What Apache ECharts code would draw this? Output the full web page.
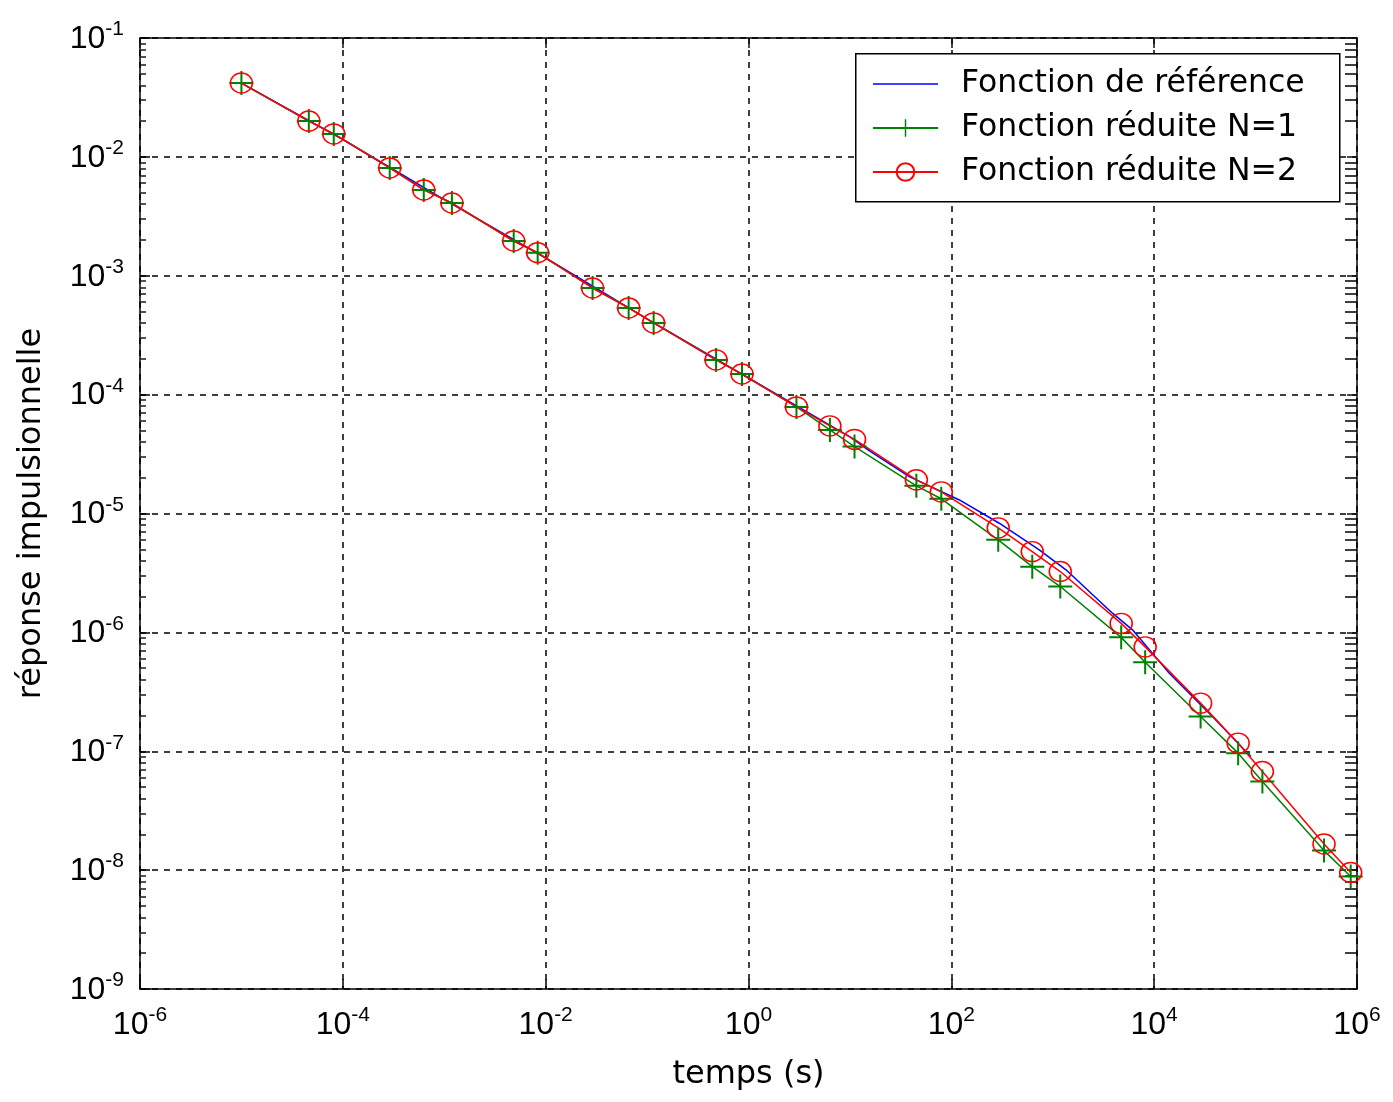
<!DOCTYPE html>
<html><head><meta charset="utf-8">
<script src="https://cdn.jsdelivr.net/npm/echarts@6/dist/echarts.min.js"></script>
<style>html,body{margin:0;padding:0;background:#fff}#c{width:1393px;height:1102px}</style>
</head><body><div id="c"></div>
<script>
// sample times (s) where the reduced functions are marked
const timeValues = [1e-5, 4.62e-5, 8.14e-5, 2.90e-4, 6.28e-4, 1.19e-3, 4.84e-3, 8.34e-3, 0.0290, 0.0658, 0.116, 0.479, 0.863, 2.97, 6.35, 11.1, 45.2, 79.6, 290, 628, 1186, 4730, 8150, 28700, 67300, 116700, 473000, 867000];
// reduced function N=1
const n1Values = [0.0418, 0.0200, 0.0156, 8.07e-3, 5.27e-3, 4.09e-3, 1.96e-3, 1.56e-3, 7.89e-4, 5.36e-4, 4.01e-4, 1.96e-4, 1.49e-4, 7.88e-5, 5.05e-5, 3.66e-5, 1.71e-5, 1.33e-5, 6.00e-6, 3.57e-6, 2.43e-6, 9.08e-7, 5.60e-7, 1.96e-7, 9.64e-8, 5.56e-8, 1.46e-8, 8.83e-9];
// reduced function N=2
const n2Values = [0.0418, 0.0200, 0.0156, 8.07e-3, 5.27e-3, 4.09e-3, 1.96e-3, 1.56e-3, 7.89e-4, 5.36e-4, 4.01e-4, 1.96e-4, 1.49e-4, 7.88e-5, 5.46e-5, 4.20e-5, 1.92e-5, 1.52e-5, 7.57e-6, 4.78e-6, 3.25e-6, 1.19e-6, 7.55e-7, 2.54e-7, 1.17e-7, 6.75e-8, 1.66e-8, 9.55e-9];
// reference function
const refTimes = [1e-5, 1e-4, 1e-3, 1e-2, 0.1, 1, 10, 15.6, 38.5, 120, 297, 736, 1350, 3880, 6110, 14100, 37500, 89800];
const refValues = [0.0418, 0.0140, 4.37e-3, 1.41e-3, 4.33e-4, 1.38e-4, 4.41e-5, 3.36e-5, 2.04e-5, 1.30e-5, 8.28e-6, 4.94e-6, 3.36e-6, 1.45e-6, 1.05e-6, 4.54e-7, 1.96e-7, 9.02e-8];

const xTickValues = [1e-6, 1e-4, 1e-2, 1, 1e2, 1e4, 1e6];
const yTickValues = [1e-9, 1e-8, 1e-7, 1e-6, 1e-5, 1e-4, 1e-3, 1e-2, 1e-1];
const minorMultipliers = [2, 3, 4, 5, 6, 7, 8, 9];
const seriesNames = ['Fonction de référence', 'Fonction réduite N=1', 'Fonction réduite N=2'];
const xTitle = 'temps (s)';
const yTitle = 'réponse impulsionnelle';

const yMinorTicks = [];
yTickValues.slice(0, -1).forEach(d => minorMultipliers.forEach(m => yMinorTicks.push(+(m * d).toPrecision(3))));

const sup = v => '{b|10}{s|' + Math.round(Math.log10(v)) + '}';
const rich = {
  b: {fontFamily: 'Liberation Sans', fontSize: 32, lineHeight: 32, padding: [8, 0, 0, 0], color: '#000'},
  s: {fontFamily: 'Liberation Sans', fontSize: 21, lineHeight: 21, verticalAlign: 'top', color: '#000'}
};
const titleFont = {fontFamily: 'DejaVu Sans', fontSize: 32, color: '#000'};
const border = {show: true, lineStyle: {color: '#000', width: 1.5}};
const grid = {show: true, color: '#000', width: 1.5, type: [6, 6]};
const plusPath = 'path://M-1,-12L1,-12L1,-1L12,-1L12,1L1,1L1,12L-1,12L-1,1L-12,1L-12,-1L-1,-1Z';
const linePath = 'path://M0,0L65,0L65,1.5L0,1.5Z';

const logY = {type: 'log', logBase: 10, min: 1e-9, max: 1e-1};
const logX = {type: 'log', logBase: 10, min: 1e-6, max: 1e6};

const chart = echarts.init(document.getElementById('c'), null, {renderer: 'canvas'});
chart.setOption({
  animation: false,
  backgroundColor: '#fff',
  grid: {left: 140, right: 36, top: 38, bottom: 113, containLabel: false},
  graphic: [{
    type: 'rect', z: 10, left: 855, top: 53,
    shape: {x: 0, y: 0, width: 484, height: 148},
    style: {fill: '#fff', stroke: '#000', lineWidth: 1.5}
  }],
  legend: {
    z: 11,
    orient: 'vertical', left: 872, top: 66, padding: 0,
    itemWidth: 65, itemHeight: 22, itemGap: 8,
    data: [{name: seriesNames[0], icon: linePath}, seriesNames[1], seriesNames[2]],
    textStyle: {fontFamily: 'DejaVu Sans', fontSize: 31.5, lineHeight: 36, color: '#000', padding: [0, 0, 0, 18]}
  },
  xAxis: [Object.assign({}, logX, {
    position: 'bottom',
    name: xTitle, nameLocation: 'middle', nameGap: 70, nameTextStyle: titleFont,
    axisLine: border,
    axisTick: {show: true, inside: true, length: 10, customValues: xTickValues, lineStyle: {color: '#000', width: 1.5}},
    axisLabel: {customValues: xTickValues, formatter: sup, rich: rich, margin: 16},
    splitLine: {show: true, lineStyle: grid}
  }), Object.assign({}, logX, {
    position: 'top',
    axisLine: border,
    axisTick: {show: true, inside: true, length: 10, customValues: xTickValues, lineStyle: {color: '#111', width: 1.5}},
    axisLabel: {show: false},
    splitLine: {show: false}
  })],
  yAxis: [Object.assign({}, logY, {
    position: 'left',
    name: yTitle, nameLocation: 'middle', nameGap: 92, nameRotate: 90, nameTextStyle: titleFont,
    axisLine: border,
    axisTick: {show: true, inside: true, length: 10, customValues: yTickValues, lineStyle: {color: '#000', width: 1.5}},
    axisLabel: {customValues: yTickValues, formatter: sup, rich: rich, margin: 16, padding: [0, 0, 6, 0]},
    splitLine: {show: true, lineStyle: grid}
  }), Object.assign({}, logY, {
    position: 'left',
    axisLine: {show: false},
    axisTick: {show: true, inside: true, length: 6, customValues: yMinorTicks, lineStyle: {color: '#1a1a1a', width: 1.5}},
    axisLabel: {show: false},
    splitLine: {show: false}
  }), Object.assign({}, logY, {
    position: 'right',
    axisLine: border,
    axisTick: {show: true, inside: true, length: 10, customValues: yTickValues, lineStyle: {color: '#111', width: 1.5}},
    axisLabel: {show: false},
    splitLine: {show: false}
  }), Object.assign({}, logY, {
    position: 'right',
    axisLine: {show: false},
    axisTick: {show: true, inside: true, length: 12, customValues: yMinorTicks, lineStyle: {color: '#000', width: 1.5}},
    axisLabel: {show: false},
    splitLine: {show: false}
  })],
  series: [{
    name: seriesNames[0], type: 'line', xAxisIndex: 0, yAxisIndex: 0,
    data: refTimes.map((t, i) => [t, refValues[i]]),
    symbol: 'none', showSymbol: false,
    lineStyle: {color: '#0000ff', width: 1.5}, itemStyle: {color: '#0000ff'}
  }, {
    name: seriesNames[1], type: 'line', xAxisIndex: 0, yAxisIndex: 0,
    data: timeValues.map((t, i) => [t, n1Values[i]]),
    symbol: plusPath, symbolSize: 24, showAllSymbol: true,
    lineStyle: {color: '#008000', width: 1.5}, itemStyle: {color: '#008000'}
  }, {
    name: seriesNames[2], type: 'line', xAxisIndex: 0, yAxisIndex: 0,
    data: timeValues.map((t, i) => [t, n2Values[i]]),
    symbol: 'circle', symbolSize: [22, 20], showAllSymbol: true,
    lineStyle: {color: '#ff0000', width: 1.5},
    itemStyle: {color: 'rgba(255,255,255,0)', borderColor: '#ff0000', borderWidth: 1.5}
  }]
});
</script></body></html>
